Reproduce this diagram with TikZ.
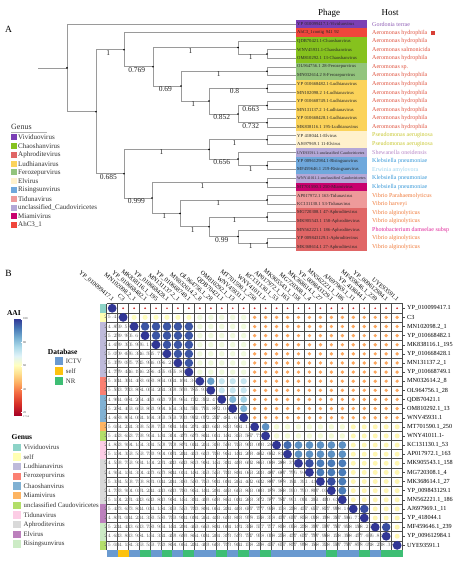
\documentclass[tikz,border=0pt]{standalone}
\usepackage{fontspec}
\setmainfont{Liberation Serif}
% tree box colours
\definecolor{cViv}{HTML}{7B3FB5}
\definecolor{cAhc}{HTML}{F0463C}
\definecolor{cCha}{HTML}{86C21E}
\definecolor{cFer}{HTML}{93C47D}
\definecolor{cLud}{HTML}{FBD35A}
\definecolor{cElv}{HTML}{FFF1CC}
\definecolor{cUnc}{HTML}{B4A7D6}
\definecolor{cRis}{HTML}{6FA8DC}
\definecolor{cMia}{HTML}{C8006E}
\definecolor{cTid}{HTML}{EE9A9A}
\definecolor{cAph}{HTML}{E06666}
% host colours
\definecolor{hpur}{HTML}{8E5CB5}
\definecolor{hred}{HTML}{E0533F}
\definecolor{hyel}{HTML}{C8C832}
\definecolor{hlav}{HTML}{B888C8}
\definecolor{hblu}{HTML}{3A9AD9}
\definecolor{hlbl}{HTML}{9AD4F0}
\definecolor{hora}{HTML}{F07A3A}
\definecolor{hmag}{HTML}{E0269A}
\definecolor{brc}{HTML}{9A9A9A}
% genus colours B
\definecolor{gV}{HTML}{8DD3C7}
\definecolor{gS}{HTML}{FFFFB3}
\definecolor{gL}{HTML}{BEBADA}
\definecolor{gF}{HTML}{FB8072}
\definecolor{gC}{HTML}{80B1D3}
\definecolor{gM}{HTML}{FDB462}
\definecolor{gU}{HTML}{B3DE69}
\definecolor{gT}{HTML}{FCCDE5}
\definecolor{gA}{HTML}{D9D9D9}
\definecolor{gE}{HTML}{BC80BD}
\definecolor{gR}{HTML}{CCEBC5}
% database colours
\definecolor{dI}{HTML}{6A9AD0}
\definecolor{dS}{HTML}{FDC20F}
\definecolor{dN}{HTML}{3EBE74}
% AAI scale
\definecolor{q0}{HTML}{A50026}
\definecolor{q1}{HTML}{D73027}
\definecolor{q2}{HTML}{F46D43}
\definecolor{q3}{HTML}{FDAE61}
\definecolor{q4}{HTML}{FEE090}
\definecolor{q5}{HTML}{FFFFBF}
\definecolor{q6}{HTML}{E0F3F8}
\definecolor{q7}{HTML}{ABD9E9}
\definecolor{q8}{HTML}{74ADD1}
\definecolor{q9}{HTML}{4575B4}
\definecolor{q10}{HTML}{313695}
\colorlet{cc}{q5}

\newcommand\aaimix[4]{\pgfmathsetmacro\pp{max(0,min(100,100*(\vv-#1)/(#2-#1)))}%
  \edef\tmpmix{\noexpand\colorlet{cc}{#4!\pp!#3}}\tmpmix}
\newcommand\setaai[1]{\pgfmathsetmacro\vv{#1}%
 \ifdim\vv pt<27pt \aaimix{17}{27}{q0}{q1}\else
 \ifdim\vv pt<37pt \aaimix{27}{37}{q1}{q2}\else
 \ifdim\vv pt<45pt \aaimix{37}{45}{q2}{q3}\else
 \ifdim\vv pt<53pt \aaimix{45}{53}{q3}{q4}\else
 \ifdim\vv pt<60pt \aaimix{53}{60}{q4}{q5}\else
 \ifdim\vv pt<68pt \aaimix{60}{68}{q5}{q6}\else
 \ifdim\vv pt<76pt \aaimix{68}{76}{q6}{q7}\else
 \ifdim\vv pt<84pt \aaimix{76}{84}{q7}{q8}\else
 \ifdim\vv pt<92pt \aaimix{84}{92}{q8}{q9}\else
 \aaimix{92}{100}{q9}{q10}\fi\fi\fi\fi\fi\fi\fi\fi\fi}

\def\grplist{{1,2,3,3,3,3,3,3,4,4,5,5,5,6,7,8,8,9,9,9,9,9,10,10,11,11,12}}
\newcommand\getv[2]{%
 \pgfmathtruncatemacro\gi{\grplist[#1-1]}%
 \pgfmathtruncatemacro\gj{\grplist[#2-1]}%
 \def\vv{44}%
 \ifcase\gi\or
   \def\vv{25}%
 \or
   \ifnum\gj=3 \def\vv{59.5}\fi
   \ifnum\gj=4 \def\vv{64}\fi
   \ifnum\gj=5 \def\vv{64}\fi
 \or
   \ifnum\gj=3 \def\vv{96}\fi
   \ifnum\gj=4 \def\vv{64}\fi
   \ifnum\gj=5 \def\vv{64}\fi
 \or
   \ifnum\gj=4 \def\vv{86}\fi
   \ifnum\gj=5 \def\vv{72}\fi
 \or
   \ifnum\gj=5 \def\vv{82}\fi
 \or
   \def\vv{58}\ifnum\gj<10 \def\vv{63}\fi\ifnum\gj=7 \def\vv{88}\fi
 \or
   \def\vv{58}\ifnum\gj<10 \def\vv{63}\fi
 \or
   \def\vv{58}\ifnum\gj=8 \def\vv{93}\fi\ifnum\gj=9 \def\vv{88}\fi
 \or
   \def\vv{58}\ifnum\gj=9 \def\vv{91}\fi
 \else
   \def\vv{58}\ifnum\gi=\gj \def\vv{97}\fi
 \fi
 \ifnum#1=11 \ifnum#2=13 \def\vv{77}\fi\fi
 \ifnum#1=18 \ifnum#2=19 \def\vv{97}\fi\fi
 \ifnum#1=20 \ifnum#2=21 \def\vv{97}\fi\fi
}

\def\bnames{YP\_010099417.1,C3,MN102098.2\_1,YP\_010668482.1,MK838116.1\_195,YP\_010668428.1,MN131137.2\_1,YP\_010668749.1,MN032614.2\_8,OL964756.1\_28,QDB70421.1,OM810292.1\_13,WNV45931.1,MT701590.1\_250,WNY41011.1-,KC131130.1\_53,AP017972.1\_163,MK905543.1\_158,MG720308.1\_4,MK368614.1\_27,YP\_009843129.1,MN562221.1\_186,AJ697969.1\_11,YP\_418044.1,MF459646.1\_239,YP\_009612984.1,UYE93591.1}
\def\rowcols{gV,gS,gL,gL,gL,gL,gL,gL,gF,gF,gC,gC,gC,gM,gU,gT,gT,gA,gA,gA,gA,gA,gE,gE,gR,gR,gU}
\def\dbcols{dI,dS,dI,dN,dI,dN,dI,dN,dI,dI,dN,dI,dN,dI,dN,dI,dI,dI,dI,dI,dN,dI,dI,dN,dI,dN,dN}
\def\GL{106.7}\def\GT{303.7}\def\CW{10.96}\def\RH{9.12}

\tikzset{
 br/.style={draw=brc, line width=0.75pt},
 bl/.style={pos=0.72, below=-0.3pt, font=\fontsize{7.5}{8}\selectfont, inner sep=0.5pt, text=black!85},
 leafbox/.style={anchor=west, minimum height=8.58pt, inner ysep=0pt, inner xsep=1pt, text width=69pt, align=left, font=\fontsize{4.6}{5}\selectfont, text=black!85},
 hostt/.style={anchor=west, inner sep=0pt, font=\fontsize{6}{7}\selectfont},
 legt/.style={anchor=west, inner sep=0pt, font=\fontsize{7}{8}\selectfont, text=black!80},
 legb/.style={anchor=west, inner sep=0pt, font=\fontsize{6.8}{8}\selectfont, text=black!80},
 legh/.style={anchor=west, inner sep=0pt, font=\bfseries\fontsize{7.5}{9}\selectfont},
 numt/.style={inner sep=0pt, font=\fontsize{2.6}{3}\selectfont, text=black!60},
 bname/.style={inner sep=0.5pt, font=\fontsize{6.2}{7}\selectfont},
 gridln/.style={draw=black!70, line width=0.5pt},
}

\begin{document}
\begin{tikzpicture}[x=1pt,y=-1pt]
\useasboundingbox (0,0) rectangle (464,561);
\fill[white] (0,0) rectangle (464,561);

% ================= PANEL A =================
\node[font=\fontsize{9.5}{10}\selectfont] (labA) at (8.5,29) {A};
\node[font=\fontsize{9}{10}\selectfont] (hPhage) at (329,13) {Phage};
\node[font=\fontsize{9}{10}\selectfont] (hHost) at (390,13) {Host};

% leaves
\foreach [count=\k] \t/\c in {
 YP 010099417.1-Vividuovirus/cViv,
 AhC3\_1contig 941 92/cAhc,
 QDB70421.1-Chaoshanvirus/cCha,
 WNV45931.1-Chaoshanvirus/cCha,
 OM810292.1 13-Chaoshanvirus/cCha,
 OL964756.1 28-Ferozepurvirus/cFer,
 MN032614.2 8-Ferozepurvirus/cFer,
 YP 010668482.1-Ludhianavirus/cLud,
 MN102098.2 1-Ludhianavirus/cLud,
 YP 010668749.1-Ludhianavirus/cLud,
 MN131137.2 1-Ludhianavirus/cLud,
 YP 010668428.1-Ludhianavirus/cLud,
 MK838116.1 195-Ludhianavirus/cLud,
 YP 418044.1-Elvirus/cElv,
 AJ697969.1 11-Elvirus/cElv,
 {\fontsize{4}{4}\selectfont UYE93591.1-unclassified Caudoviricetes}/cUnc,
 YP 009612984.1-Risingsunvirus/cRis,
 MF459646.1 219-Risingsunvirus/cRis,
 {\fontsize{4}{4}\selectfont WNY41011.1-unclassified Caudoviricetes}/cUnc,
 MT701590.1 250-Miamivirus/cMia,
 AP017972.1 163-Tidunavirus/cTid,
 KC131130.1 53-Tidunavirus/cTid,
 MG720308.1 47-Aphroditevirus/cAph,
 MK905543.1 158-Aphroditevirus/cAph,
 MN562221.1 186-Aphroditevirus/cAph,
 YP 009843129.1-Aphroditevirus/cAph,
 MK368614.1 27-Aphroditevirus/cAph}
 {\node[leafbox, fill=\c] (l\k) at (296,{24+(\k-1)*8.58}) {\t};}

% hosts
\foreach [count=\k] \t/\c in {
 Gordonia terrae/hpur, Aeromonas hydrophila/hred, Aeromonas hydrophila/hred,
 Aeromonas salmonicida/hred, Aeromonas hydrophila/hred, Aeromonas sp./hred,
 Aeromonas hydrophila/hred, Aeromonas hydrophila/hred, Aeromonas hydrophila/hred,
 Aeromonas hydrophila/hred, Aeromonas hydrophila/hred, Aeromonas hydrophila/hred,
 Aeromonas hydrophila/hred, Pseudomonas aeruginosa/hyel, Pseudomonas aeruginosa/hyel,
 Shewanella oneidensis/hlav, Klebsiella pneumoniae/hblu, Erwinia amylovora/hlbl,
 Klebsiella pneumoniae/hblu, Klebsiella pneumoniae/hblu, Vibrio Parahaemolyticus/hora,
 Vibrio harveyi/hora, Vibrio alginolyticus/hora, Vibrio alginolyticus/hora,
 Photobacterium damselae subsp/hmag, Vibrio alginolyticus/hora, Vibrio alginolyticus/hora}
 {\node[hostt, text=\c] (h\k) at (372,{24+(\k-1)*8.58}) {\t};}
\node[fill=cAhc!90!black, minimum size=4pt, inner sep=0pt] (mark) at (433,32.6) {};

% internal nodes
\coordinate (R0) at (38,67.9);
\coordinate (R) at (67,67.9);
\coordinate (N1) at (96,111.7);
\coordinate (N2) at (124,49.7);
\coordinate (N3) at (124,173.7);
\coordinate (N4) at (153,66.8);
\coordinate (N5) at (238,47.6);
\coordinate (N6) at (267,54);
\coordinate (N7) at (181,86);
\coordinate (N8) at (267,71.2);
\coordinate (N9) at (209,101);
\coordinate (N10a) at (267,88.4);
\coordinate (N10) at (238,114);
\coordinate (N11a) at (267,105.5);
\coordinate (N11b) at (267,122.7);
\coordinate (N11) at (209,149.4);
\coordinate (NE) at (267,139.8);
\coordinate (N13) at (238,159);
\coordinate (NR) at (267,165.6);
\coordinate (N12) at (152,198);
\coordinate (NM) at (267,182.7);
\coordinate (N14) at (180,213.4);
\coordinate (NT) at (267,199.9);
\coordinate (N15) at (209,226.8);
\coordinate (NA1) at (267,217.1);
\coordinate (N16) at (238,236.5);
\coordinate (NA2) at (267,242.9);

\draw[br] (R0) -- (R);
\draw[br] (R) |- (l1);
\draw[br] (R) |- (N1);
\draw[br] (N1) |- node[bl]{1} (N2);
\draw[br] (N1) |- node[bl]{0.685} (N3);
\draw[br] (N2) |- (l2);
\draw[br] (N2) |- node[bl]{0.769} (N4);
\draw[br] (N4) |- node[bl]{1} (N5);
\draw[br] (N4) |- node[bl]{0.69} (N7);
\draw[br] (N5) |- (l3);
\draw[br] (N5) |- node[bl]{1} (N6);
\draw[br] (N6) |- (l4);
\draw[br] (N6) |- (l5);
\draw[br] (N7) |- node[bl]{1} (N8);
\draw[br] (N7) |- node[bl]{1} (N9);
\draw[br] (N8) |- (l6);
\draw[br] (N8) |- (l7);
\draw[br] (N9) |- node[bl]{0.8} (N10a);
\draw[br] (N9) |- node[bl]{0.852} (N10);
\draw[br] (N10a) |- (l8);
\draw[br] (N10a) |- (l9);
\draw[br] (N10) |- node[bl]{0.663} (N11a);
\draw[br] (N10) |- node[bl]{0.732} (N11b);
\draw[br] (N11a) |- (l10);
\draw[br] (N11a) |- (l11);
\draw[br] (N11b) |- (l12);
\draw[br] (N11b) |- (l13);
\draw[br] (N3) |- node[bl]{1} (N11);
\draw[br] (N3) |- node[bl]{0.999} (N12);
\draw[br] (N11) |- node[bl]{1} (NE);
\draw[br] (N11) |- node[bl]{0.656} (N13);
\draw[br] (NE) |- (l14);
\draw[br] (NE) |- (l15);
\draw[br] (N13) |- (l16);
\draw[br] (N13) |- node[bl]{1} (NR);
\draw[br] (NR) |- (l17);
\draw[br] (NR) |- (l18);
\draw[br] (N12) |- node[bl]{1} (NM);
\draw[br] (N12) |- node[bl]{1} (N14);
\draw[br] (NM) |- (l19);
\draw[br] (NM) |- (l20);
\draw[br] (N14) |- node[bl]{1} (NT);
\draw[br] (N14) |- node[bl]{1} (N15);
\draw[br] (NT) |- (l21);
\draw[br] (NT) |- (l22);
\draw[br] (N15) |- node[bl]{1} (NA1);
\draw[br] (N15) |- node[bl]{0.99} (N16);
\draw[br] (NA1) |- (l23);
\draw[br] (NA1) |- (l24);
\draw[br] (N16) |- (l25);
\draw[br] (N16) |- node[bl]{1} (NA2);
\draw[br] (NA2) |- (l26);
\draw[br] (NA2) |- (l27);
\foreach \n in {R,N1,N2,N3,N4,N5,N6,N7,N8,N9,N10a,N10,N11a,N11b,N11,NE,N13,NR,N12,NM,N14,NT,N15,NA1,N16,NA2}
 {\fill (\n) circle (0.9pt);}

% legend A
\node[legt, font=\fontsize{8}{9}\selectfont] (gA) at (11,127) {Genus};
\draw[black!30, line width=0.4pt] (11,132.6) -- (47,132.6);
\foreach [count=\k] \t/\c in {Vividuovirus/cViv, Chaoshanvirus/cCha, Aphroditevirus/cAph,
 Ludhianavirus/cLud, Ferozepurvirus/cFer, Elvirus/cElv, Risingsunvirus/cRis, Tidunavirus/cTid,
 unclassified\_Caudoviricetes/cUnc, Miamivirus/cMia, AhC3\_1/cAhc}
 {\fill[\c] (11,{137.5+(\k-1)*8.75-3}) rectangle (16.5,{137.5+(\k-1)*8.75+3});
  \node[legt] (ga\k) at (18,{137.5+(\k-1)*8.75}) {\t};}

% ================= PANEL B =================
\node[font=\fontsize{9.5}{10}\selectfont] (labB) at (8.5,273) {B};

% grid
\foreach \k in {0,...,27}{
 \draw[gridln] ({\GL+\k*\CW},\GT) -- ({\GL+\k*\CW},{\GT+27*\RH});
 \draw[gridln] (\GL,{\GT+\k*\RH}) -- ({\GL+27*\CW},{\GT+\k*\RH});
}
% row genus bar and bottom database bar
\foreach [count=\k] \c in \rowcols
 {\fill[\c] (99.8,{\GT+(\k-1)*\RH}) rectangle (106.4,{\GT+\k*\RH});}
\foreach [count=\k] \c in \dbcols
 {\fill[\c] ({\GL+(\k-1)*\CW},550.3) rectangle ({\GL+\k*\CW},556.6);}

% cells
\foreach \i in {1,...,27}{
 \foreach \j in {1,...,27}{
  \pgfmathsetmacro\cx{\GL+(\j-0.5)*\CW}
  \pgfmathsetmacro\cy{\GT+(\i-0.5)*\RH}
  \ifnum\i<\j
    \getv{\i}{\j}\setaai{\vv}
    \pgfmathsetmacro\rr{0.6+3.8*(\vv-17)/83}
    \fill[cc] (\cx,\cy) circle (\rr pt);
  \else\ifnum\i=\j
    \setaai{100}
    \fill[cc] (\cx,\cy) circle (4.4pt);
  \else
    \getv{\j}{\i}
    \pgfmathsetmacro\nn{\vv+mod(\i*37+\j*17,97)/100-0.45}
    \node[numt] at (\cx,\cy) {\pgfmathprintnumber[fixed,precision=2,fixed zerofill]{\nn}};
  \fi\fi
 }
}

% row and column names
\foreach [count=\k] \nm in \bnames {
 \pgfmathsetmacro\cy{\GT+(\k-0.5)*\RH}
 \pgfmathsetmacro\cx{\GL+(\k-0.5)*\CW}
 \draw[black!70, line width=0.4pt] ({\GL+27*\CW},\cy) -- ({\GL+27*\CW+2.3},\cy);
 \node[bname, anchor=west] (rn\k) at (406.5,\cy) {\nm};
 \node[bname, anchor=east, rotate=-40] (cn\k) at ({\cx+1.5},300.5) {\nm};
}

% AAI colour bar
\node[legh] (aaiT) at (6.8,312.7) {AAI};
\foreach \t in {0,...,96}{
 \pgfmathsetmacro\vb{100-(\t+0.5)*83/97}
 \setaai{\vb}
 \fill[cc] (14,{319+\t}) rectangle (22,{320.1+\t});
}
\foreach \v/\lab in {100/100,80/80,60/60,40/40,20/20}{
 \pgfmathsetmacro\yy{319+(100-\v)*97/83}
 \draw[white, line width=0.4pt] (20.5,\yy) -- (22,\yy);
 \node[anchor=west, inner sep=0pt, font=\fontsize{3}{3}\selectfont, text=black!70] at (23,\yy) {\lab};
}
\node[anchor=west, inner sep=0pt, font=\fontsize{2.6}{3}\selectfont, text=black!70] (minv) at (23,416.5) {17.54};

% database legend
\node[legh] (dbT) at (47.7,352) {Database};
\foreach [count=\k] \t/\c in {ICTV/dI, self/dS, NR/dN}{
 \fill[\c] (55,{361.2+(\k-1)*10-4}) rectangle (63.3,{361.2+(\k-1)*10+4});
 \node[legb] (db\k) at (65.7,{361.2+(\k-1)*10}) {\t};
}

% genus legend B
\node[legh] (gbT) at (11.5,437) {Genus};
\foreach [count=\k] \t/\c in {Vividuovirus/gV, self/gS, Ludhianavirus/gL, Ferozepurvirus/gF,
 Chaoshanvirus/gC, Miamivirus/gM, unclassified Caudoviricetes/gU, Tidunavirus/gT,
 Aphroditevirus/gA, Elvirus/gE, Risingsunvirus/gR}{
 \fill[\c] (13,{447.3+(\k-1)*9.67-3.6}) rectangle (21,{447.3+(\k-1)*9.67+3.6});
 \node[legb] (gb\k) at (23.5,{447.3+(\k-1)*9.67}) {\t};
}
\end{tikzpicture}
\end{document}
